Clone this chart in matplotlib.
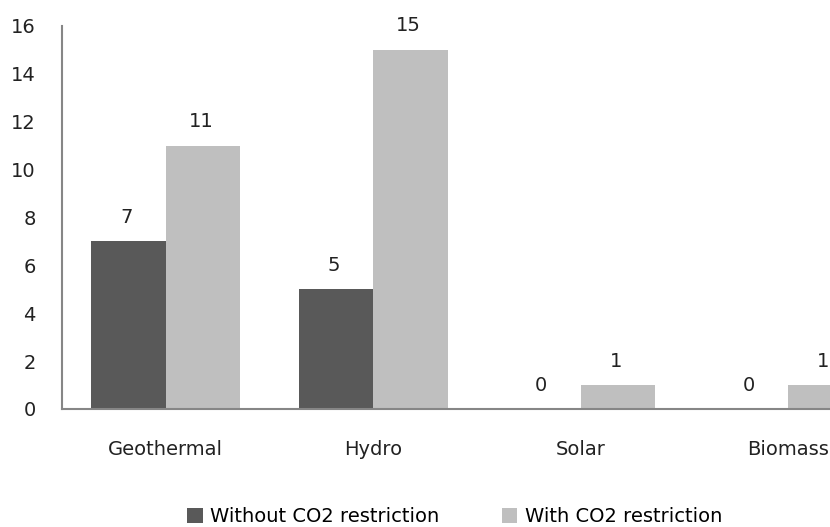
import numpy as np
import matplotlib.pyplot as plt

# Renewable capacity by source, with and without CO2 restriction
categories = ["Geothermal", "Hydro", "Solar", "Biomass"]
without_co2 = [7, 5, 0, 0]
with_co2 = [11, 15, 1, 1]

dark = "#595959"
light = "#bfbfbf"

fig = plt.figure(figsize=(8.3, 5.27), dpi=100)
# axes deliberately runs past the right edge so the last group is clipped
ax = fig.add_axes([0.0747, 0.224, 1.0, 0.727])

x = np.arange(len(categories))
w = 0.36
b1 = ax.bar(x - w / 2, without_co2, w, color=dark, label="Without CO2 restriction")
b2 = ax.bar(x + w / 2, with_co2, w, color=light, label="With CO2 restriction")

for bars, vals in ((b1, without_co2), (b2, with_co2)):
    for r, v in zip(bars, vals):
        ax.text(r.get_x() + r.get_width() / 2 - 0.01, v + 0.6, str(v),
                ha="center", va="bottom", fontsize=14, color="#222222")

ax.set_xlim(-0.5, 3.5)
ax.set_ylim(0, 16)
ax.set_yticks(range(0, 17, 2))
ax.set_xticks(x)
ax.set_xticklabels(categories)
ax.tick_params(axis="both", length=0, labelsize=14, colors="#222222")
ax.tick_params(axis="y", pad=19)
ax.tick_params(axis="x", pad=22)

for s in ("top", "right"):
    ax.spines[s].set_visible(False)
for s in ("left", "bottom"):
    ax.spines[s].set_color("#868686")
    ax.spines[s].set_linewidth(1.5)

fig.legend(loc="center", bbox_to_anchor=(0.548, 0.019), ncol=2, frameon=False,
           fontsize=14, handlelength=0.8, handleheight=0.8, columnspacing=3.2,
           handletextpad=0.4)

fig.savefig("out.png", dpi=100)
